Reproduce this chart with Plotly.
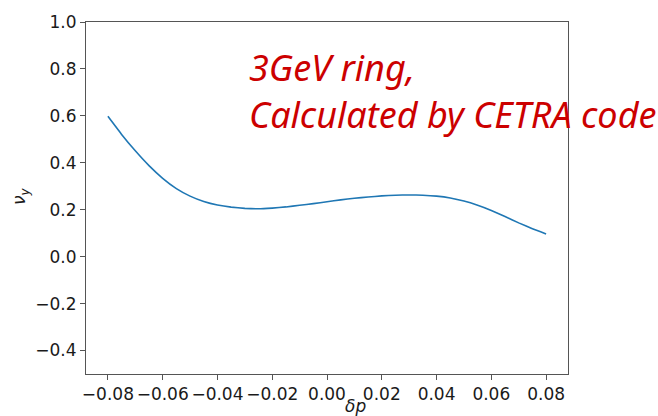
import plotly.graph_objects as go

dp = [-0.080, -0.075, -0.070, -0.065, -0.060, -0.055, -0.050, -0.045, -0.040,
      -0.035, -0.030, -0.025, -0.020, -0.015, -0.010, -0.005, 0.000, 0.005,
      0.010, 0.015, 0.020, 0.025, 0.030, 0.035, 0.040, 0.045, 0.050, 0.055,
      0.060, 0.065, 0.070, 0.075, 0.080]
nu_y = [0.598, 0.521, 0.451, 0.388, 0.334, 0.290, 0.258, 0.235, 0.220,
        0.211, 0.206, 0.204, 0.207, 0.212, 0.219, 0.226, 0.234, 0.242,
        0.249, 0.254, 0.259, 0.262, 0.263, 0.262, 0.258, 0.250, 0.237, 0.219,
        0.197, 0.171, 0.144, 0.119, 0.097]

x_ticks = [-0.08, -0.06, -0.04, -0.02, 0.0, 0.02, 0.04, 0.06, 0.08]
y_ticks = [-0.4, -0.2, 0.0, 0.2, 0.4, 0.6, 0.8, 1.0]

W, H = 658, 416
ml, mr, mt, mb = 86, 90, 14, 42

fig = go.Figure()
fig.add_trace(go.Scatter(x=dp, y=nu_y, mode="lines",
                         line=dict(color="#1f77b4", width=1.6, shape="spline", smoothing=0.3),
                         showlegend=False, hoverinfo="skip"))

axis_common = dict(showline=True, mirror=True, linecolor="#555555", linewidth=1,
                   ticks="outside", ticklen=5, tickwidth=1, tickcolor="#555555",
                   showgrid=False, zeroline=False,
                   tickfont=dict(family="DejaVu Sans", size=17, color="#1a1a1a"))

fig.update_xaxes(range=[-0.088, 0.088], tickvals=x_ticks, tickformat=".2f", **axis_common)
fig.update_yaxes(range=[-0.5, 1.0], tickvals=y_ticks, tickformat=".1f", **axis_common)

fig.add_annotation(x=0.5, y=0, xref="paper", yref="paper",
                   text="<i>δp</i>", showarrow=False, xanchor="center", yanchor="middle",
                   font=dict(family="DejaVu Sans", size=17, color="#1a1a1a"),
                   xshift=355 - (ml + 0.5 * (W - ml - mr)), yshift=-(406 - (H - mb)))
fig.add_annotation(x=0, y=0.5, xref="paper", yref="paper",
                   text="<i>ν</i><sub><i>y</i></sub>", showarrow=False,
                   xanchor="center", yanchor="middle", textangle=-90,
                   font=dict(family="DejaVu Sans", size=17, color="#1a1a1a"),
                   xshift=-(ml - 20), yshift=(0.5 * (H - mt - mb) + mt) - 192)

fig.add_annotation(x=0, y=1, xref="paper", yref="paper",
                   text="<i>3GeV ring,</i><br><i>Calculated by CETRA code</i>",
                   showarrow=False, xanchor="left", yanchor="top", align="left",
                   xshift=250 - ml - 3, yshift=-(33 - mt),
                   font=dict(family="Noto Sans", size=36, color="#cc0000"))

fig.update_layout(width=W, height=H, margin=dict(l=ml, r=mr, t=mt, b=mb),
                  paper_bgcolor="white", plot_bgcolor="white")

fig.write_html("out.html")
